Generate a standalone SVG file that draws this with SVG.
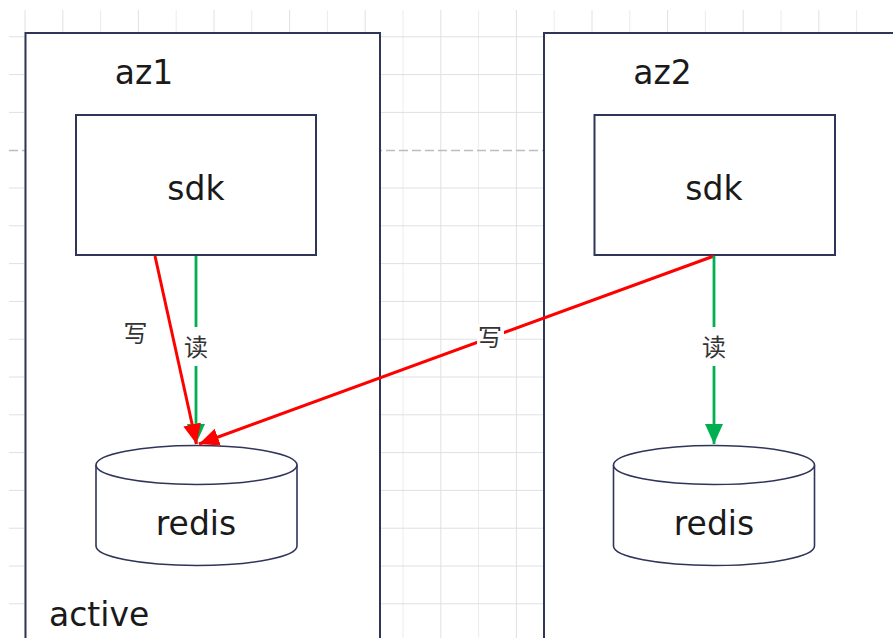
<svg xmlns="http://www.w3.org/2000/svg" width="893" height="638" viewBox="0 0 893 638">
<style>
.gl{stroke:#ececec;stroke-width:1;fill:none}
.gd{stroke:#e0e0e0;stroke-width:1;fill:none}
.cont{fill:#ffffff;stroke:#2f3559;stroke-width:2}
.box{fill:#ffffff;stroke:#2f3559;stroke-width:2}
.cyl{fill:#ffffff;stroke:#2f3559;stroke-width:1.6}
.t{font-family:"DejaVu Sans","Noto Sans CJK SC",sans-serif;font-size:33px;fill:#1a1a1a}
.lbl{font-family:"Noto Sans CJK SC","DejaVu Sans",sans-serif;font-size:24px;fill:#333333;text-anchor:middle}
.red{stroke:#ff0000;stroke-width:3;fill:none}
.green{stroke:#00b050;stroke-width:2.8;fill:none}
</style>
<defs>
<marker id="ar" markerUnits="userSpaceOnUse" markerWidth="22" markerHeight="20" refX="20" refY="9" orient="auto">
<path d="M0,0 L20,9 L0,18 Z" fill="#ff0000"/>
</marker>
<marker id="ag" markerUnits="userSpaceOnUse" markerWidth="22" markerHeight="20" refX="20" refY="9" orient="auto">
<path d="M0,0 L20,9 L0,18 Z" fill="#00b050"/>
</marker>
</defs>
<rect width="893" height="638" fill="#ffffff"/>
<g id="grid">
<path class="gl" d="M100.6,10V638M176.2,10V638M251.8,10V638M327.4,10V638M403,10V638M478.6,10V638M554.2,10V638M629.8,10V638M705.4,10V638M781,10V638M856.6,10V638"/>
<path class="gd" d="M25,10V638M62.8,10V638M138.4,10V638M214,10V638M289.6,10V638M365.2,10V638M440.8,10V638M516.4,10V638M592,10V638M667.6,10V638M743.2,10V638M818.8,10V638"/>
<path class="gd" d="M9,36.8H893M9,74.6H893M9,112.4H893M9,188H893M9,225.8H893M9,263.6H893M9,301.4H893M9,339.2H893M9,377H893M9,414.8H893M9,452.6H893M9,490.4H893M9,528.2H893M9,566H893M9,603.8H893"/>
<path d="M9,150.5H893" stroke="#bdbdbd" stroke-width="1.3" stroke-dasharray="9 4" fill="none"/>
</g>
<g id="az1">
<rect class="cont" x="25.5" y="33" width="354.5" height="630"/>
<text class="t" x="144" y="84" text-anchor="middle">az1</text>
<text class="t" x="49" y="626">active</text>
</g>
<g id="az2">
<rect class="cont" x="544" y="33" width="370" height="630"/>
<text class="t" x="662.5" y="84" text-anchor="middle">az2</text>
</g>
<g id="sdk1">
<rect class="box" x="76" y="115" width="240" height="140"/>
<text class="t" x="196" y="200" text-anchor="middle">sdk</text>
</g>
<g id="sdk2">
<rect class="box" x="594.5" y="115" width="240.5" height="140"/>
<text class="t" x="714" y="200" text-anchor="middle">sdk</text>
</g>
<g id="redis1">
<path class="cyl" d="M96,465 A100.5,19.5 0 0 1 297,465 L297,546 A100.5,19.5 0 0 1 96,546 Z"/>
<path class="cyl" fill="none" d="M96,465 A100.5,19.5 0 0 0 297,465"/>
<text class="t" x="196" y="535" text-anchor="middle">redis</text>
</g>
<g id="redis2">
<path class="cyl" d="M613.5,465 A100.5,19.5 0 0 1 814.5,465 L814.5,546 A100.5,19.5 0 0 1 613.5,546 Z"/>
<path class="cyl" fill="none" d="M613.5,465 A100.5,19.5 0 0 0 814.5,465"/>
<text class="t" x="714" y="535" text-anchor="middle">redis</text>
</g>
<g id="connectors">
<path class="green" d="M196,256 L196,444" marker-end="url(#ag)"/>
<path class="red" d="M155,256 L196.5,444" marker-end="url(#ar)"/>
<path class="red" d="M714,256 L199,444" marker-end="url(#ar)"/>
<path class="green" d="M714,256 L714,444" marker-end="url(#ag)"/>
<rect x="183" y="327" width="26" height="39" fill="#ffffff"/>
<text class="lbl" x="196" y="356">读</text>
<rect x="701" y="327" width="26" height="39" fill="#ffffff"/>
<text class="lbl" x="714" y="356">读</text>
<rect x="477" y="324" width="27" height="27" fill="#ffffff"/>
<text class="lbl" x="490" y="346">写</text>
<text class="lbl" x="135.5" y="342">写</text>
</g>
</svg>
